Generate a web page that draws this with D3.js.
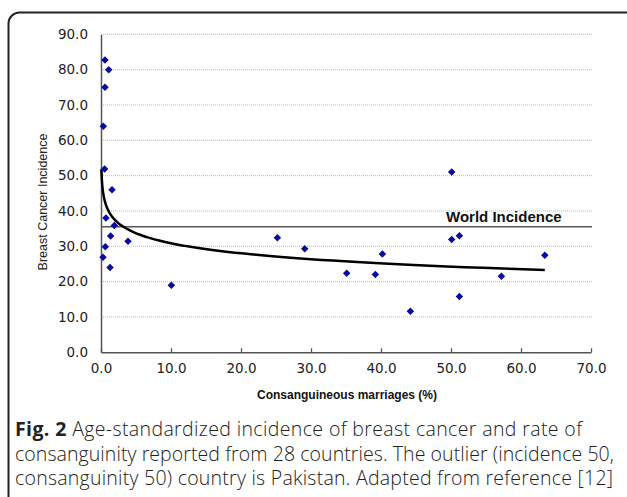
<!DOCTYPE html>
<html>
<head>
<meta charset="utf-8">
<script src="https://cdn.jsdelivr.net/npm/d3@7"></script>
<style>
	body { margin: 0; background: #fff; }
	svg { display: block; }
</style>
</head>
<body>
<div class="chart"></div>
<script>
// values
const consanguinity = [0.57, 1.1, 0.57, 0.33, 0.52, 1.57, 0.71, 1.9, 1.38, 0.62, 0.29, 1.29, 3.86, 10.05,
	25.2, 29.1, 35.1, 39.2, 40.2, 44.2, 50.1, 51.2, 51.2, 57.2, 63.4, 50.1];
const incidence = [82.7, 80.0, 75.0, 64.0, 51.9, 46.0, 38.0, 35.9, 32.9, 29.9, 26.9, 24.0, 31.4, 19.0,
	32.4, 29.3, 22.4, 22.0, 27.8, 11.6, 31.9, 33.0, 15.8, 21.5, 27.5, 51.0];
const xTicks = [0, 10, 20, 30, 40, 50, 60, 70];
const yTicks = [0, 10, 20, 30, 40, 50, 60, 70, 80, 90];
const worldIncidence = 35.5;
// logarithmic trend line, y = a + b ln(x)
const trendIntercept = 40.3;
const trendSlope = -4.1;
const trendRange = [0.06, 63.4];
const captionLines = [
	"Age-standardized incidence of breast cancer and rate of",
	"consanguinity reported from 28 countries. The outlier (incidence 50,",
	"consanguinity 50) country is Pakistan. Adapted from reference [12]"
];
const captionWidths = [567, 599, 598];

let width = 627, height = 497;

let svg = d3.select(".chart")
	.append("svg")
	.attr("width", width)
	.attr("height", height);

// panel border
svg.append("rect")
	.attr("x", 8.5).attr("y", 12.5)
	.attr("width", 640).attr("height", 500)
	.attr("rx", 11)
	.attr("fill", "none")
	.attr("stroke", "#222")
	.attr("stroke-width", 2);

let x = d3.scaleLinear().domain([0, 70]).range([101, 591]);
let y = d3.scaleLinear().domain([0, 90]).range([352.3, 34.3]);

// gridlines
svg.append("g")
	.selectAll("line")
	.data(yTicks.slice(1))
	.enter().append("line")
	.attr("x1", x(0)).attr("x2", x(70) + 1)
	.attr("y1", d => y(d)).attr("y2", d => y(d))
	.attr("stroke", "#bdbdbd")
	.attr("stroke-width", 1)
	.attr("stroke-dasharray", "1,1");

let fmt = d3.format(".1f");

let xAxis = svg.append("g")
	.attr("transform", `translate(0,${y(0)})`)
	.call(d3.axisBottom(x).tickValues(xTicks).tickFormat(fmt).tickSizeInner(-4).tickSizeOuter(0).tickPadding(11));

let yAxis = svg.append("g")
	.attr("transform", `translate(${x(0)},0)`)
	.call(d3.axisLeft(y).tickValues(yTicks).tickFormat(fmt).tickSize(0).tickPadding(13));

[xAxis, yAxis].forEach(g => {
	g.select(".domain").attr("stroke", "#555").attr("stroke-width", 1.5);
	g.selectAll(".tick line").attr("stroke", "#555").attr("stroke-width", 1.3);
	g.selectAll(".tick text")
		.attr("fill", "#222")
		.style("font-family", "'DejaVu Sans', Verdana, sans-serif")
		.style("font-size", "13.5px");
});

// world incidence reference line
svg.append("line")
	.attr("x1", x(0)).attr("x2", x(70) + 1)
	.attr("y1", y(worldIncidence)).attr("y2", y(worldIncidence))
	.attr("stroke", "#555")
	.attr("stroke-width", 1.5);

svg.append("text")
	.attr("x", 446).attr("y", y(worldIncidence) - 5)
	.attr("fill", "#111")
	.style("font-family", "'Liberation Sans', Arial, sans-serif")
	.style("font-weight", "bold")
	.style("font-size", "15px")
	.text("World Incidence");

// trend curve
let trendX = d3.ticks(Math.log(trendRange[0]), Math.log(trendRange[1]), 120).map(Math.exp);
trendX.unshift(trendRange[0]);
trendX.push(trendRange[1]);

svg.append("path")
	.datum(trendX)
	.attr("fill", "none")
	.attr("stroke", "#000")
	.attr("stroke-width", 2.5)
	.attr("d", d3.line()
		.x(d => x(d))
		.y(d => y(trendIntercept + trendSlope * Math.log(d))));

// points
let points = consanguinity.map((c, i) => ({c, v: incidence[i]}));

svg.append("g")
	.selectAll("path")
	.data(points)
	.enter().append("path")
	.attr("transform", d => `translate(${x(d.c)},${y(d.v)})`)
	.attr("d", d3.symbol().type(d3.symbolDiamond2).size(36))
	.attr("fill", "#0a0a9e");

// axis titles
svg.append("text")
	.attr("x", 347).attr("y", 399)
	.attr("text-anchor", "middle")
	.attr("fill", "#111")
	.style("font-family", "'Liberation Sans', Arial, sans-serif")
	.style("font-weight", "bold")
	.style("font-size", "12px")
	.text("Consanguineous marriages (%)");

svg.append("text")
	.attr("transform", "translate(47,202) rotate(-90)")
	.attr("text-anchor", "middle")
	.attr("fill", "#222")
	.style("font-family", "'Liberation Sans', Arial, sans-serif")
	.style("font-size", "12.5px")
	.text("Breast Cancer Incidence");

// caption
let cap = svg.append("g")
	.style("font-family", "'Open Sans', 'Noto Sans', sans-serif")
	.style("font-size", "19.5px")
	.attr("fill", "#222");

captionLines.forEach((line, i) => {
	let t = cap.append("text")
		.attr("x", 15)
		.attr("y", 436 + i * 24.5)
		.attr("textLength", captionWidths[i])
		.attr("lengthAdjust", "spacing");
	if (i === 0) {
		t.append("tspan").style("font-weight", "bold").text("Fig. 2 ");
	}
	t.append("tspan").style("font-weight", 300).text(line);
});
</script>
</body>
</html>
